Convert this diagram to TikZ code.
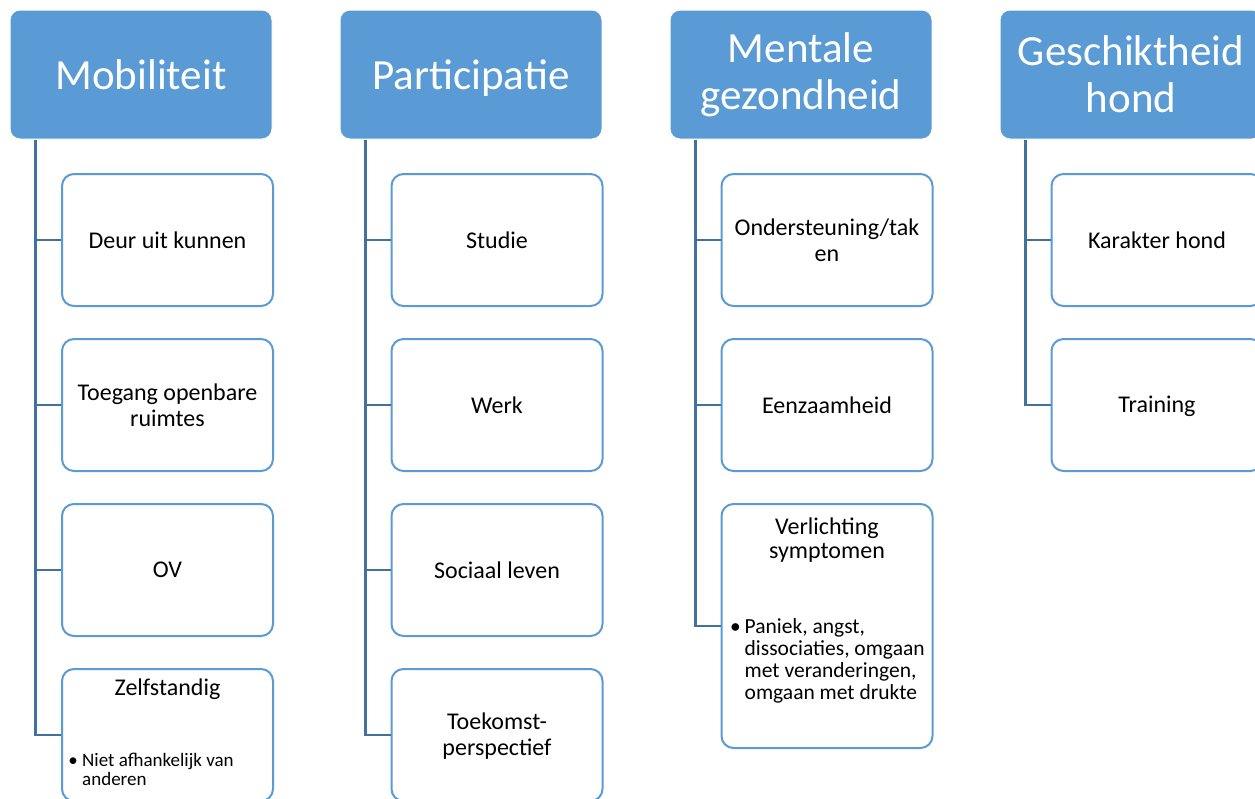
\documentclass[tikz,border=0pt]{standalone}
\usepackage{fontspec}
\setmainfont{Carlito}
\definecolor{hdr}{HTML}{5B9BD5}
\definecolor{conn}{HTML}{41719C}
\begin{document}
\begin{tikzpicture}[x=1pt,y=-1pt,
  hdrbox/.style={draw=white, line width=1pt, fill=hdr, rounded corners=10pt,
    minimum width=262pt, minimum height=129pt, text=white, align=center,
    font=\fontsize{43}{47}\selectfont, inner sep=0pt},
  kid/.style={draw=hdr, line width=2pt, fill=white, rounded corners=12pt,
    minimum width=211pt, minimum height=132pt, align=center,
    font=\fontsize{24}{26}\selectfont, inner sep=0pt},
  kidtitle/.style={anchor=base, inner sep=0pt, font=\fontsize{24}{26}\selectfont},
  bulA/.style={anchor=base west, inner sep=0pt, font=\fontsize{19}{19}\selectfont},
  bulB/.style={anchor=base west, inner sep=0pt, font=\fontsize{21.5}{22}\selectfont},
  link/.style={draw=conn, line width=2.2pt}]
\useasboundingbox (0,0) rectangle (1255,798);
\clip (0,0) rectangle (1255,798);

% headers
\node[hdrbox] (h1) at (141,74.5) {Mobiliteit};
\node[hdrbox, text depth=0pt] (h2) at (471,74.5) {Participatie};
\node[hdrbox] (h3) at (801,74.5) {Mentale\\gezondheid};
\node[hdrbox] (h4) at (1131,74.5) {Geschiktheid\\hond};

% column 1
\node[kid] (c11) at (167.5,240) {Deur uit kunnen};
\node[kid] (c12) at (167.5,405) {Toegang openbare\\ruimtes};
\node[kid] (c13) at (167.5,570) {OV};
\node[kid] (c14) at (167.5,735) {};
\node[kidtitle] (c14t) at (167.5,695) {Zelfstandig};
\node[bulA, anchor=base] (c14b) at (73,766) {\textbullet};
\node[bulA] (c14d1) at (82,766) {Niet afhankelijk van};
\node[bulA] (c14d2) at (82,785) {anderen};

% column 2
\node[kid] (c21) at (497,240) {Studie};
\node[kid] (c22) at (497,405) {Werk};
\node[kid] (c23) at (497,570) {Sociaal leven};
\node[kid, text depth=1pt] (c24) at (497,735) {Toekomst-\\perspectief};

% column 3
\node[kid] (c31) at (827,240) {Ondersteuning/tak\\en};
\node[kid] (c32) at (827,405) {Eenzaamheid};
\node[kid, minimum height=244pt] (c33) at (827,626) {};
\node[kidtitle] (c33t) at (827,534) {Verlichting};
\node[kidtitle] (c33u) at (827,558) {symptomen};
\node[bulB, anchor=base] (c33b) at (735.5,633) {\textbullet};
\node[bulB] (c33d1) at (744.5,633) {Paniek, angst,};
\node[bulB] (c33d2) at (744.5,655) {dissociaties, omgaan};
\node[bulB] (c33d3) at (744.5,677) {met veranderingen,};
\node[bulB] (c33d4) at (744.5,699) {omgaan met drukte};

% column 4
\node[kid] (c41) at (1157,240) {Karakter hond};
\node[kid, text depth=1pt] (c42) at (1157,405) {Training};

% connectors
\draw[link] ([xshift=26pt]h1.south west) |- (c14.west);
\draw[link] ([xshift=26pt]h1.south west |- c11.west) -- (c11.west);
\draw[link] ([xshift=26pt]h1.south west |- c12.west) -- (c12.west);
\draw[link] ([xshift=26pt]h1.south west |- c13.west) -- (c13.west);

\draw[link] ([xshift=26pt]h2.south west) |- (c24.west);
\draw[link] ([xshift=26pt]h2.south west |- c21.west) -- (c21.west);
\draw[link] ([xshift=26pt]h2.south west |- c22.west) -- (c22.west);
\draw[link] ([xshift=26pt]h2.south west |- c23.west) -- (c23.west);

\draw[link] ([xshift=26pt]h3.south west) |- (c33.west);
\draw[link] ([xshift=26pt]h3.south west |- c31.west) -- (c31.west);
\draw[link] ([xshift=26pt]h3.south west |- c32.west) -- (c32.west);

\draw[link] ([xshift=26pt]h4.south west) |- (c42.west);
\draw[link] ([xshift=26pt]h4.south west |- c41.west) -- (c41.west);
\end{tikzpicture}
\end{document}
